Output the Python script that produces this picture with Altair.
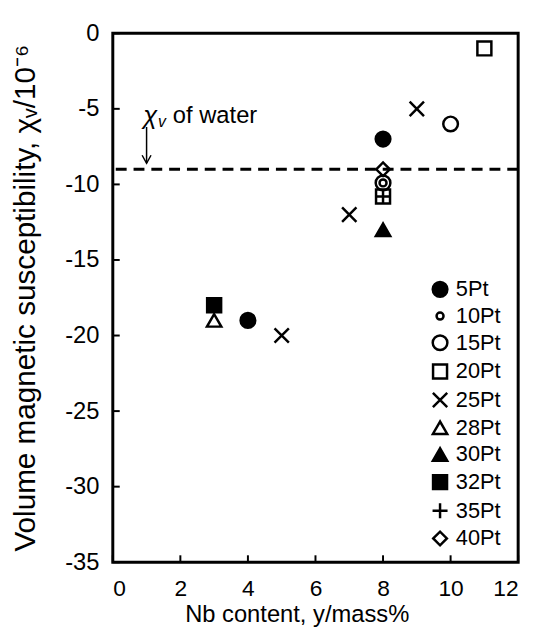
import altair as alt
import pandas as pd

# ---- data ----
series_order = ["5Pt", "10Pt", "15Pt", "20Pt", "25Pt", "28Pt", "30Pt", "32Pt", "35Pt", "40Pt"]
pt_series = ["5Pt", "5Pt", "10Pt", "15Pt", "15Pt", "20Pt", "20Pt", "25Pt", "25Pt", "25Pt",
             "28Pt", "30Pt", "32Pt", "35Pt", "40Pt"]
nb_content = [8, 4, 8, 10, 8, 11, 8, 9, 7, 5, 3, 8, 3, 8, 8]
chi_v = [-7, -19, -9.9, -6, -9.9, -1, -10.8, -5, -12, -20, -19, -13, -18, -10.8, -9]
water_chi = [-9]
x_ticks = [0, 2, 4, 6, 8, 10, 12]
y_ticks = [0, -5, -10, -15, -20, -25, -30, -35]

# annotation anchor (data units)
ann_x = [0.9]
ann_y = [-5.5]
arrow_x = [1.0]
arrow_top = [-6.2]
arrow_tip = [-8.6]

# ---- styling ----
X_PATH = "M-1,-1L1,1M-1,1L1,-1"
PLUS_PATH = "M-1,0L1,0M0,-1L0,1"
HEAD_PATH = "M-1,-1.8L0,0L1,-1.8"
shape_range = ["circle", "circle", "circle", "square", X_PATH, "triangle-up",
               "triangle-up", "square", PLUS_PATH, "diamond"]
fill_range = ["black", "transparent", "transparent", "transparent", "transparent",
              "transparent", "black", "black", "transparent", "transparent"]
stroke_range = ["black"] * 10
size_range = [220, 50, 220, 200, 210, 210, 210, 200, 230, 190]

FONT = "Liberation Sans"
W, H = 410, 535

pts = pd.DataFrame({"series": pt_series, "x": nb_content, "y": chi_v})

xscale = alt.Scale(domain=[0, 12], nice=False, zero=False)
yscale = alt.Scale(domain=[-35, 0], nice=False, zero=False)

legend = alt.Legend(
    title=None, orient="none", legendX=320, legendY=248,
    labelFontSize=22, labelFont=FONT, labelColor="black", labelOffset=5,
    rowPadding=3, padding=0, symbolStrokeColor="black", symbolStrokeWidth=2.5,
)

base_x = alt.X("x:Q", scale=xscale, axis=alt.Axis(
    title="Nb content, y/mass%", values=x_ticks, grid=False, ticks=False, domain=False,
    labelFontSize=23, labelPadding=16, titleFontSize=24, titleFontWeight="normal",
    titlePadding=2, titleX=186, labelExpr="'' + datum.value"))
base_y = alt.Y("y:Q", scale=yscale, axis=alt.Axis(
    title="Volume magnetic susceptibility, χᵥ/10⁻⁶", values=y_ticks, grid=False,
    ticks=False, domain=False, labelFontSize=24, labelPadding=14, titleFontSize=30,
    titleFontWeight="normal", titlePadding=24, labelExpr="'' + datum.value"))

points = alt.Chart(pts).mark_point(
    filled=False, strokeWidth=2.5, opacity=1
).encode(
    x=base_x,
    y=base_y,
    shape=alt.Shape("series:N", scale=alt.Scale(domain=series_order, range=shape_range), legend=legend),
    fill=alt.Fill("series:N", scale=alt.Scale(domain=series_order, range=fill_range), legend=legend),
    stroke=alt.Stroke("series:N", scale=alt.Scale(domain=series_order, range=stroke_range), legend=legend),
    size=alt.Size("series:N", scale=alt.Scale(type="ordinal", domain=series_order, range=size_range), legend=legend),
)

water = alt.Chart(pd.DataFrame({"y": water_chi})).mark_rule(
    color="black", strokeWidth=3, strokeDash=[11, 7]
).encode(y=alt.Y("y:Q", scale=yscale))

xt = alt.Chart(pd.DataFrame({"x": x_ticks})).mark_rule(color="black", strokeWidth=2).encode(
    x=alt.X("x:Q", scale=xscale), y=alt.value(H), y2=alt.value(H - 7))
yt = alt.Chart(pd.DataFrame({"y": y_ticks})).mark_rule(color="black", strokeWidth=2).encode(
    y=alt.Y("y:Q", scale=yscale), x=alt.value(0), x2=alt.value(7))

ann = pd.DataFrame({"x": ann_x, "y": ann_y})
chi_txt = alt.Chart(ann).mark_text(
    text="χ", font=FONT, fontSize=26, fontStyle="italic", align="left", baseline="middle"
).encode(x=alt.X("x:Q", scale=xscale), y=alt.Y("y:Q", scale=yscale))
v_txt = alt.Chart(ann).mark_text(
    text="v", font=FONT, fontSize=16, fontStyle="italic", align="left", baseline="middle", dx=15, dy=6
).encode(x=alt.X("x:Q", scale=xscale), y=alt.Y("y:Q", scale=yscale))
of_txt = alt.Chart(ann).mark_text(
    text="of water", font=FONT, fontSize=24, align="left", baseline="middle", dx=30
).encode(x=alt.X("x:Q", scale=xscale), y=alt.Y("y:Q", scale=yscale))

arr = pd.DataFrame({"x": arrow_x, "y": arrow_top, "y2": arrow_tip})
arrow_line = alt.Chart(arr).mark_rule(color="black", strokeWidth=1.5).encode(
    x=alt.X("x:Q", scale=xscale), y=alt.Y("y:Q", scale=yscale), y2="y2:Q")
arrow_head = alt.Chart(arr).mark_point(
    shape=HEAD_PATH, size=81, stroke="black", strokeWidth=1.5, filled=False, opacity=1
).encode(x=alt.X("x:Q", scale=xscale), y=alt.Y("y2:Q", scale=yscale))

chart = alt.layer(water, xt, yt, arrow_line, arrow_head, chi_txt, v_txt, of_txt, points).properties(
    width=W, height=H,
    autosize=alt.AutoSizeParams(type="none"),
    padding={"left": 106, "top": 22, "right": 14, "bottom": 66},
).configure_view(
    stroke="black", strokeWidth=3
).configure_axis(
    labelFont=FONT, titleFont=FONT, labelColor="black", titleColor="black"
)

chart.save("out.html", embed_options={"renderer": "svg", "actions": False})
